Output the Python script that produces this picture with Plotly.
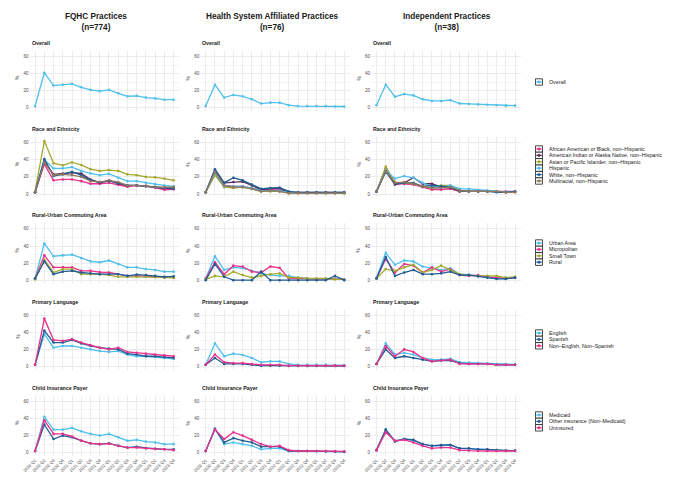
import plotly.graph_objects as go
from plotly.subplots import make_subplots

W, H = 681, 490
OFF = 8  # page body margin
FW, FH = W - OFF, H - OFF
FONT = "Liberation Sans, Arial, sans-serif"

quarters = ["2020 Q1", "2020 Q2", "2020 Q3", "2020 Q4",
            "2021 Q1", "2021 Q2", "2021 Q3", "2021 Q4",
            "2022 Q1", "2022 Q2", "2022 Q3", "2022 Q4",
            "2023 Q1", "2023 Q2", "2023 Q3", "2023 Q4"]

col_titles = ["FQHC Practices<br>(n=774)",
              "Health System Affiliated Practices<br>(n=76)",
              "Independent Practices<br>(n=38)"]
row_titles = ["Overall", "Race and Ethnicity", "Rural-Urban Commuting Area",
              "Primary Language", "Child Insurance Payer"]

# ---- Row 1: Overall ----
overall_fqhc = [2, 41, 26, 27, 28, 24, 21, 19.5, 21, 17, 13.5, 14, 12, 11, 9.5, 9.5]
overall_hsa = [2, 27, 12, 15, 13.5, 10, 5, 6, 6, 3, 2, 2, 2, 2, 1.5, 1.5]
overall_ind = [3, 27, 13, 16, 14.5, 10, 8, 8, 9, 5, 4.5, 4, 3.5, 3, 2.5, 2.5]

# ---- Row 2: Race and Ethnicity ----
race_labels = ["African American or Black, non\u2013Hispanic",
               "American Indian or Alaska Native, non\u2013Hispanic",
               "Asian or Pacific Islander, non\u2013Hispanic",
               "Hispanic",
               "White, non\u2013Hispanic",
               "Multiracial, non\u2013Hispanic"]
race_fqhc_black = [2, 35, 16, 17, 17, 15, 12, 12, 13, 11, 8.5, 10, 9.5, 7.5, 5, 5.5]
race_fqhc_aian = [2, 38, 23, 24, 25, 24, 17, 13, 16, 12, 10, 10, 9, 8, 7, 7]
race_fqhc_api = [3, 62, 36, 33.5, 37, 34, 29, 27, 28, 27, 23, 22, 20, 19.5, 18, 16]
race_fqhc_hisp = [2, 40, 30, 30, 31.5, 27, 24, 22, 23.5, 19, 15, 15, 13, 11.5, 10, 9]
race_fqhc_white = [2, 41, 21, 23, 26, 22, 16, 14, 15, 13, 10, 10, 9, 8, 7, 6]
race_fqhc_multi = [2, 37, 22, 23, 22, 20, 15, 14, 16, 14, 10, 10, 9.5, 8, 8, 8]

race_hsa_black = [2, 24, 10, 9, 9, 7, 4, 5, 4.5, 2, 1.5, 1.5, 1.5, 1.5, 1.5, 1.5]
race_hsa_aian = [2, 28, 13, 14, 14.5, 10, 5, 6, 6.5, 2, 2, 2, 2, 2, 2, 2]
race_hsa_api = [2, 22, 8, 7, 8, 6, 3, 3, 3, 1, 1, 1, 1, 1, 1, 1]
race_hsa_hisp = [2, 25, 9, 9, 9, 7, 4, 4, 4, 2, 1.5, 1.5, 1.5, 1.5, 1.5, 1.5]
race_hsa_white = [2, 29, 13, 19, 16, 11, 6, 7, 7.5, 3, 2, 2, 2, 2, 2, 2]
race_hsa_multi = [2, 26, 10, 8, 8, 6, 3, 4, 3, 1, 1, 1, 1, 1, 1, 1]

race_ind_black = [3, 30, 12, 12, 11, 8, 5, 5, 6, 3, 3, 3, 3, 3, 3, 3]
race_ind_aian = [3, 27, 11, 13, 19, 12, 12, 8, 7, 3, 3, 3, 3, 3, 2, 2.5]
race_ind_api = [3, 32, 14, 13, 12, 9, 7, 10, 10, 4, 3, 3, 3, 3, 2, 2.5]
race_ind_hisp = [3, 28, 18, 21, 19, 13, 9, 8, 10, 6, 6, 5, 4, 3, 2.5, 2.5]
race_ind_white = [3, 26, 12, 13, 13, 9, 10, 9, 8, 4, 3, 3, 3, 2, 2, 3]
race_ind_multi = [3, 27, 13, 14, 12, 9, 7, 7, 8, 4, 3, 3, 3, 3, 2, 2]

# ---- Row 3: Rural-Urban Commuting Area ----
ruca_labels = ["Urban Area", "Micropolitan", "Small Town", "Rural"]
ruca_fqhc_urban = [2, 43, 28, 29, 30, 26, 22, 21, 23, 19, 15, 15, 13, 12, 10, 10]
ruca_fqhc_micro = [2, 29, 15, 15, 15, 11, 11, 9.5, 9, 7, 5, 5, 4.5, 4, 3, 3]
ruca_fqhc_small = [1, 24, 9, 13, 13, 7, 7, 7, 6, 4, 4, 4, 4, 3.5, 3, 3]
ruca_fqhc_rural = [2, 22, 7, 10, 11, 9, 8, 7, 7, 7, 5, 6.5, 6, 5, 4, 4.5]

ruca_hsa_urban = [2, 28, 12, 15, 14, 11, 8, 6, 5, 5, 3, 2, 1.5, 1.5, 1.5, 1]
ruca_hsa_micro = [2, 21, 7, 17, 16, 10, 9, 16, 14.5, 2, 2, 1.5, 1.5, 1.5, 1.5, 1]
ruca_hsa_small = [1, 5, 4, 10, 6, 3, 5, 7, 8, 3, 3, 2, 2, 2, 1, 1]
ruca_hsa_rural = [0, 19, 4, 0, 0, 0, 10, 0, 0, 0, 0, 0, 0, 0, 5, 0]

ruca_ind_urban = [3, 32, 18, 23, 22, 16, 14, 12, 14, 7, 6.5, 5, 4, 2, 2, 3]
ruca_ind_micro = [2, 25, 9, 19, 17, 9, 15, 10, 13, 6, 5, 6, 4, 3, 2, 3]
ruca_ind_small = [2, 13, 11, 15, 18, 9, 12, 17, 12, 7, 6, 5, 5, 5, 3, 4]
ruca_ind_rural = [2, 27, 5, 9, 12, 7, 7, 8, 10, 6, 6, 4.5, 3, 1.5, 1.5, 3]

# ---- Row 4: Primary Language ----
lang_labels = ["English", "Spanish", "Non\u2013English, Non\u2013Spanish"]
lang_fqhc_english = [2, 38, 22, 24, 24, 22, 20, 18, 17, 18, 14, 12, 12, 11, 10, 9]
lang_fqhc_spanish = [2, 42, 28, 28, 31, 27, 24, 22, 21, 20, 15, 14, 12, 12, 11, 10]
lang_fqhc_other = [2, 56, 31, 30, 32, 28, 25, 22, 20, 22, 17, 16, 15, 14, 13, 12]

lang_hsa_english = [2, 27, 12, 15, 13.5, 10, 5, 6, 6, 3, 2, 2, 2, 2, 1.5, 1.5]
lang_hsa_spanish = [2, 10, 3, 3, 3, 2, 1, 1, 1, 0.5, 0.5, 0.5, 0.5, 0.5, 0.5, 0.5]
lang_hsa_other = [2, 14, 5, 4, 4, 3, 2, 2, 2, 1, 1, 1, 1, 1, 1, 1]

lang_ind_english = [3, 27, 14, 16, 14, 10, 8, 8, 9, 5, 4.5, 4, 3.5, 3, 2.5, 2.5]
lang_ind_spanish = [3, 20, 10, 12, 10, 8, 6, 7, 7, 4, 3, 3, 3, 2, 2, 2]
lang_ind_other = [3, 24, 12, 20, 17, 10, 6, 7, 8, 3, 3, 3, 3, 2, 2, 2]

# ---- Row 5: Child Insurance Payer ----
ins_labels = ["Medicaid", "Other insurance (Non\u2013Medicaid)", "Uninsured"]
ins_fqhc_medicaid = [2, 42, 27, 27, 29, 25, 22, 20, 22, 18, 14, 15, 13, 12, 10, 10]
ins_fqhc_other = [2, 33, 16, 20, 18, 14, 11, 10, 11, 8, 6, 7, 5.5, 4.5, 4, 4]
ins_fqhc_uninsured = [2, 38, 22, 22, 19, 14, 11, 10, 10.5, 8, 6, 6, 5, 4.5, 4, 3]

ins_hsa_medicaid = [2, 28, 10, 12, 10, 8, 4, 5, 5, 2, 2, 2, 1.5, 1.5, 1, 1]
ins_hsa_other = [2, 28, 12, 17, 14, 12, 7, 7, 7, 2, 2, 2, 2, 1.5, 1.5, 1]
ins_hsa_uninsured = [2, 27, 16, 24, 20, 15, 10, 7, 8, 3, 2, 2, 2, 2, 1.5, 1.5]

ins_ind_medicaid = [3, 27, 14, 16, 14, 10, 8, 8, 9, 5, 4.5, 4, 3.5, 3, 2.5, 2.5]
ins_ind_other = [3, 27, 13, 16, 15, 10, 8, 9, 9, 5, 5, 4, 4, 3, 2.5, 2.5]
ins_ind_uninsured = [3, 24, 14, 15, 12, 8, 5, 6, 6, 3, 2.5, 2, 2, 2, 2, 2]

# ---- colours ----
SKY = "#4FBFEC"
PINK = "#E8318B"
NAVY = "#215C95"
OLIVE = "#A3A92F"
PLUM = "#5E2A5C"
TAUPE = "#8E7660"

rows = [
    (["Overall"], [SKY],
     [[overall_fqhc], [overall_hsa], [overall_ind]]),
    (race_labels, [PINK, PLUM, OLIVE, SKY, NAVY, TAUPE],
     [[race_fqhc_black, race_fqhc_aian, race_fqhc_api, race_fqhc_hisp, race_fqhc_white, race_fqhc_multi],
      [race_hsa_black, race_hsa_aian, race_hsa_api, race_hsa_hisp, race_hsa_white, race_hsa_multi],
      [race_ind_black, race_ind_aian, race_ind_api, race_ind_hisp, race_ind_white, race_ind_multi]]),
    (ruca_labels, [SKY, PINK, OLIVE, NAVY],
     [[ruca_fqhc_urban, ruca_fqhc_micro, ruca_fqhc_small, ruca_fqhc_rural],
      [ruca_hsa_urban, ruca_hsa_micro, ruca_hsa_small, ruca_hsa_rural],
      [ruca_ind_urban, ruca_ind_micro, ruca_ind_small, ruca_ind_rural]]),
    (lang_labels, [SKY, NAVY, PINK],
     [[lang_fqhc_english, lang_fqhc_spanish, lang_fqhc_other],
      [lang_hsa_english, lang_hsa_spanish, lang_hsa_other],
      [lang_ind_english, lang_ind_spanish, lang_ind_other]]),
    (ins_labels, [SKY, NAVY, PINK],
     [[ins_fqhc_medicaid, ins_fqhc_other, ins_fqhc_uninsured],
      [ins_hsa_medicaid, ins_hsa_other, ins_hsa_uninsured],
      [ins_ind_medicaid, ins_ind_other, ins_ind_uninsured]]),
]

# ---- layout geometry (page pixels) ----
col_left = [22.7, 195.1, 367.7]
plot_w = 151.2
row_zero = [107.8, 194.0, 280.2, 366.5, 452.7]
YMIN, YMAX = -4, 66.5
PXU = 0.855
legend_first = [82.0, 149.0, 243.0, 333.0, 415.0]
LSTEP = 6.4

def px(x):
    return (x - OFF) / FW

def py(y):
    return 1 - (y - OFF) / FH

fig = make_subplots(rows=5, cols=3)
xidx = list(range(len(quarters)))

for r, (labels, colors, cols) in enumerate(rows):
    for c, series in enumerate(cols):
        for lab, col, vals in zip(labels, colors, series):
            fig.add_trace(go.Scatter(
                x=xidx, y=vals, mode="lines+markers", name=lab,
                line=dict(color=col, width=1.3),
                marker=dict(color=col, size=2.6),
                showlegend=False, hoverinfo="skip"),
                row=r + 1, col=c + 1)

annotations = []
shapes = []

for r in range(5):
    y0 = row_zero[r]
    top = y0 - YMAX * PXU
    bot = y0 - YMIN * PXU
    for c in range(3):
        n = r * 3 + c + 1
        xa = "xaxis" if n == 1 else f"xaxis{n}"
        ya = "yaxis" if n == 1 else f"yaxis{n}"
        fig.layout[xa].update(
            domain=[px(col_left[c]), px(col_left[c] + plot_w)],
            range=[-0.6, 15.6], tickvals=xidx, ticktext=quarters,
            showticklabels=(r == 4), tickangle=-45,
            tickfont=dict(size=4.3, color="#4D4D4D", family=FONT),
            showgrid=True, gridcolor="#EBEBEB", gridwidth=0.6,
            zeroline=False, showline=False, ticks="")
        fig.layout[ya].update(
            domain=[py(bot), py(top)],
            range=[YMIN, YMAX], tickvals=[0, 20, 40, 60],
            tickfont=dict(size=4.5, color="#4D4D4D", family=FONT),
            showgrid=True, gridcolor="#EBEBEB", gridwidth=0.6,
            minor=dict(dtick=10, showgrid=True, gridcolor="#F4F4F4", gridwidth=0.4),
            zeroline=False, showline=False, ticks="")
        annotations.append(dict(
            x=px(col_left[c]), y=py(y0 - 65), xref="paper", yref="paper",
            text=f"<b>{row_titles[r]}</b>", showarrow=False,
            xanchor="left", yanchor="middle",
            font=dict(size=5.3, color="#1A1A1A", family=FONT)))
        annotations.append(dict(
            x=px(col_left[c] - 12.5), y=py(y0 - 30), xref="paper", yref="paper",
            text="%", showarrow=False, textangle=-90,
            xanchor="center", yanchor="middle",
            font=dict(size=5, color="#1A1A1A", family=FONT)))

    labels, colors, _ = rows[r]
    for i, (lab, col) in enumerate(zip(labels, colors)):
        yc = legend_first[r] + i * LSTEP
        shapes.append(dict(type="rect", xref="paper", yref="paper",
                           x0=px(534), x1=px(541), y0=py(yc - LSTEP / 2), y1=py(yc + LSTEP / 2),
                           line=dict(color="#1A1A1A", width=0.8), fillcolor="white"))
        shapes.append(dict(type="line", xref="paper", yref="paper",
                           x0=px(534.8), x1=px(540.2), y0=py(yc), y1=py(yc),
                           line=dict(color=col, width=1.3)))
        shapes.append(dict(type="circle", xref="paper", yref="paper",
                           x0=px(536.3), x1=px(538.7), y0=py(yc - 1.2), y1=py(yc + 1.2),
                           line=dict(color=col, width=0.5), fillcolor=col))
        annotations.append(dict(
            x=px(545.3), y=py(yc), xref="paper", yref="paper",
            text=lab, showarrow=False, xanchor="left", yanchor="middle",
            font=dict(size=5.3, color="#1A1A1A", family=FONT)))

col_centers = [90, 268, 445]
for c in range(3):
    annotations.append(dict(
        x=px(col_centers[c]), y=py(21.5), xref="paper", yref="paper",
        text=f"<b>{col_titles[c]}</b>", showarrow=False,
        xanchor="center", yanchor="middle",
        font=dict(size=8.2, color="#1A1A1A", family=FONT)))

fig.update_layout(
    width=FW, height=FH,
    margin=dict(l=0, r=0, t=0, b=0),
    paper_bgcolor="white", plot_bgcolor="white",
    showlegend=False,
    annotations=annotations, shapes=shapes,
    font=dict(family=FONT),
)

fig.write_html("out.html")
